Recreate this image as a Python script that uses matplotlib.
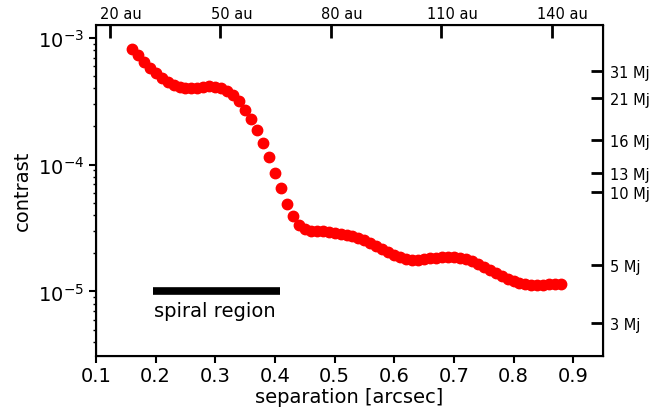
import numpy as np
import matplotlib
matplotlib.use('Agg')
import matplotlib.pyplot as plt
import matplotlib.transforms as mtransforms
from matplotlib.ticker import NullLocator, NullFormatter

plt.rcParams['font.family'] = 'DejaVu Sans'

# separation [arcsec]
sep = np.round(np.arange(0.16, 0.885, 0.01), 2)
contrast = [8.18e-4, 7.30e-4, 6.41e-4, 5.79e-4, 5.30e-4, 4.83e-4, 4.51e-4, 4.26e-4,
            4.10e-4, 4.03e-4, 4.01e-4, 4.03e-4, 4.06e-4, 4.15e-4, 4.13e-4, 3.99e-4,
            3.78e-4, 3.55e-4, 3.15e-4, 2.72e-4, 2.28e-4, 1.86e-4, 1.47e-4, 1.14e-4,
            8.6e-5, 6.49e-5, 4.90e-5, 3.90e-5, 3.34e-5, 3.08e-5, 3.01e-5, 3.01e-5,
            2.99e-5, 2.94e-5, 2.89e-5, 2.84e-5, 2.79e-5, 2.74e-5, 2.65e-5, 2.54e-5,
            2.41e-5, 2.27e-5, 2.15e-5, 2.05e-5, 1.94e-5, 1.86e-5, 1.80e-5, 1.78e-5,
            1.77e-5, 1.79e-5, 1.82e-5, 1.85e-5, 1.86e-5, 1.88e-5, 1.88e-5, 1.85e-5,
            1.80e-5, 1.73e-5, 1.65e-5, 1.56e-5, 1.48e-5, 1.39e-5, 1.32e-5, 1.25e-5,
            1.20e-5, 1.16e-5, 1.14e-5, 1.13e-5, 1.12e-5, 1.13e-5, 1.14e-5, 1.14e-5,
            1.15e-5]

sep_ticks = [0.1, 0.2, 0.3, 0.4, 0.5, 0.6, 0.7, 0.8, 0.9]

dist_pc = 162.0
au_ticks = [20, 50, 80, 110, 140]

mass_labels = ['31 Mj', '21 Mj', '16 Mj', '13 Mj', '10 Mj', '5 Mj', '3 Mj']
mass_contrast = [5.52e-4, 3.36e-4, 1.56e-4, 8.6e-5, 6.1e-5, 1.61e-5, 5.64e-6]

spiral_start, spiral_end = 0.195, 0.408

fig = plt.figure(figsize=(6.63, 4.10), dpi=100)
ax = fig.add_axes([0.1448, 0.1300, 0.7647, 0.8073])

ax.plot(sep, contrast, 'o', color='red', markersize=7.5)
ax.set_yscale('log')
ax.set_xlim(0.1, 0.95)
ax.set_ylim(3.11e-6, 1.27e-3)
ax.set_xticks(sep_ticks)
ax.set_xticklabels(['%.1f' % t for t in sep_ticks])

# spiral region bar
ax.plot([spiral_start, spiral_end], [1e-5, 1e-5], color='black', lw=5.5, solid_capstyle='butt')
ax.text(0.3, 7.1e-6, 'spiral region', fontsize=14, ha='center', va='center')

ax.set_xlabel('separation [arcsec]', fontsize=14, labelpad=1)
ax.set_ylabel('contrast', fontsize=14)
ax.tick_params(axis='both', which='major', labelsize=14, width=1.5, length=5, direction='out')
ax.tick_params(axis='x', which='major', pad=2.5)
ax.tick_params(axis='y', which='minor', width=1.0, length=2.5, direction='out')
for s in ax.spines.values():
    s.set_linewidth(1.5)

# top axis in au
axt = ax.twiny()
axt.set_xlim(ax.get_xlim())
axt.set_xticks([a / dist_pc for a in au_ticks])
axt.set_xticklabels(['%d au' % a for a in au_ticks])
axt.tick_params(axis='x', direction='in', length=9, width=2, labelsize=10.5, pad=3)
# labels sit a little right of their ticks in the original
shift = mtransforms.ScaledTranslation(0.11, 0, fig.dpi_scale_trans)
for lab in axt.get_xticklabels():
    lab.set_transform(lab.get_transform() + shift)

# right axis in planet masses
axr = ax.twinx()
axr.set_yscale('log')
axr.set_ylim(ax.get_ylim())
axr.set_yticks(mass_contrast)
axr.set_yticklabels(mass_labels)
axr.yaxis.set_minor_locator(NullLocator())
axr.yaxis.set_minor_formatter(NullFormatter())
axr.tick_params(axis='y', direction='in', length=9, width=2, labelsize=10.5, pad=5)

plt.savefig('out.png', dpi=100)
